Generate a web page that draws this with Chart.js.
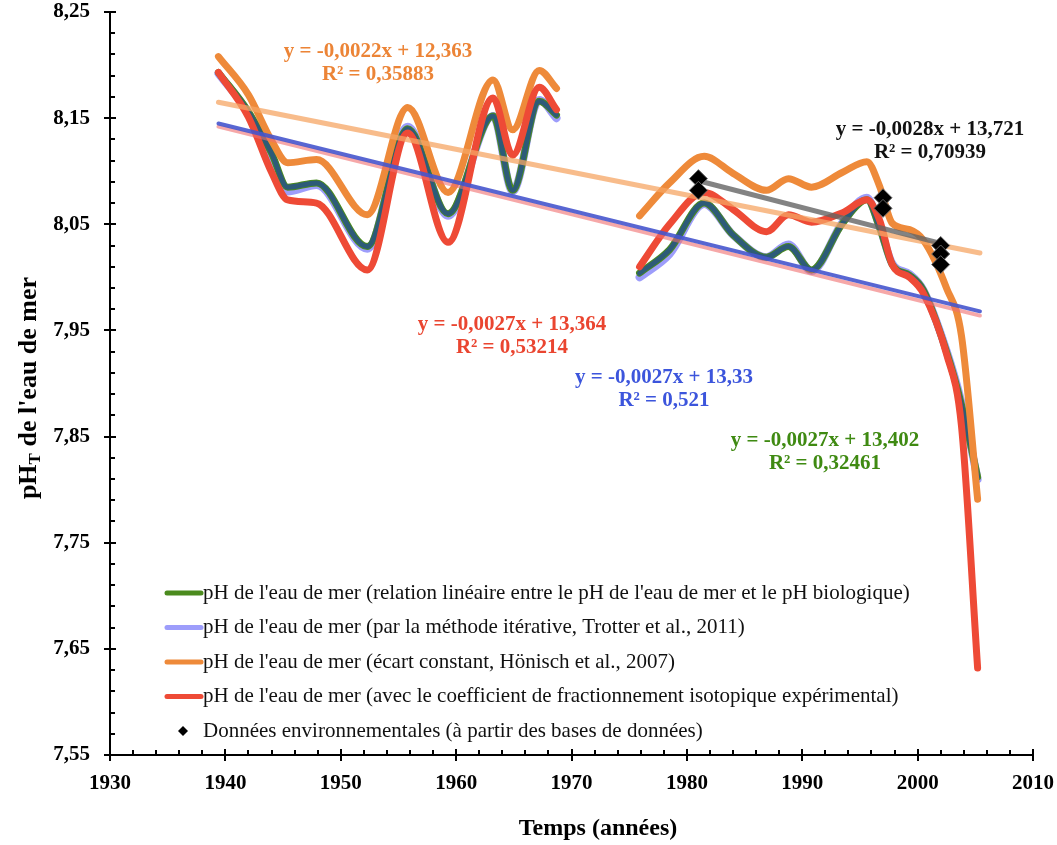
<!DOCTYPE html>
<html>
<head>
<meta charset="utf-8">
<script src="https://cdn.jsdelivr.net/npm/chart.js@4.4.0/dist/chart.umd.min.js"></script>
<style>
  html, body { margin: 0; padding: 0; background: #fff; }
</style>
</head>
<body>
<canvas id="phChart" width="1057" height="845"></canvas>
<script>
// years of the smoothed curves (null gap between the two periods)
var years = [1939.4, 1942, 1944, 1945.4, 1947.9, 1952.3, 1955.8, 1959.3, 1963.2, 1964.9, 1967.2, 1968.7,
  1972,
  1975.9, 1978.5, 1981.5, 1984, 1986.9, 1988.8, 1990.8, 1993.5, 1995.6, 1996.7, 1997.8, 1999.3, 2000.5, 2002.5, 2003.8, 2005.2];

var greenVals = [8.193, 8.156, 8.117, 8.085, 8.089, 8.029, 8.140, 8.060, 8.152, 8.082, 8.166, 8.153,
  null,
  8.004, 8.026, 8.070, 8.040, 8.019, 8.029, 8.007, 8.051, 8.073, 8.047, 8.012, 8.002, 7.988, 7.930, 7.880, 7.812];
var lavenderVals = [8.192, 8.155, 8.114, 8.081, 8.087, 8.027, 8.142, 8.058, 8.152, 8.081, 8.167, 8.150,
  null,
  8.000, 8.022, 8.069, 8.040, 8.019, 8.031, 8.006, 8.052, 8.075, 8.048, 8.013, 8.003, 7.988, 7.931, 7.882, 7.810];
var orangeVals = [8.208, 8.172, 8.129, 8.108, 8.111, 8.059, 8.160, 8.080, 8.186, 8.139, 8.195, 8.178,
  null,
  8.058, 8.089, 8.114, 8.098, 8.082, 8.093, 8.085, 8.099, 8.109, 8.086, 8.051, 8.045, 8.035, 7.990, 7.945, 7.791];
var redVals = [8.193, 8.151, 8.099, 8.073, 8.070, 8.007, 8.136, 8.033, 8.169, 8.115, 8.179, 8.158,
  null,
  8.010, 8.050, 8.080, 8.064, 8.043, 8.059, 8.052, 8.061, 8.073, 8.054, 8.012, 8.000, 7.985, 7.928, 7.860, 7.632];

// environmental data (diamonds)
var envYears = [1981, 1981, 1997, 1997, 2002, 2002, 2002];
var envVals = [8.093, 8.082, 8.075, 8.065, 8.030, 8.022, 8.012];

// linear trends, end points
var trendYears = [1939.4, 2005.4];
var orangeTrend = [8.165, 8.023];
var blueTrend = [8.145, 7.968];
var redTrend = [8.142, 7.964];
var envTrendYears = [1981, 2002];
var envTrend = [8.091, 8.032];

var legendLabels = [
  "pH de l'eau de mer (relation linéaire entre le pH de l'eau de mer et le pH biologique)",
  "pH de l'eau de mer (par la méthode itérative, Trotter et al., 2011)",
  "pH de l'eau de mer (écart constant, Hönisch et al., 2007)",
  "pH de l'eau de mer (avec le coefficient de fractionnement isotopique expérimental)",
  "Données environnementales (à partir des bases de données)"
];

var equations = [
  { lines: ['y = -0,0022x + 12,363', 'R² = 0,35883'], color: '#ec8436', x: 378, y: 52 },
  { lines: ['y = -0,0028x + 13,721', 'R² = 0,70939'], color: '#111111', x: 930, y: 130 },
  { lines: ['y = -0,0027x + 13,364', 'R² = 0,53214'], color: '#ea4530', x: 512, y: 325 },
  { lines: ['y = -0,0027x + 13,33', 'R² = 0,521'], color: '#3c55dc', x: 664, y: 378 },
  { lines: ['y = -0,0027x + 13,402', 'R² = 0,32461'], color: '#3f8a12', x: 825, y: 441 }
];

var serif = "'Liberation Serif', 'Times New Roman', serif";

function pts(xs, ys) {
  return xs.map(function(x, i) { return { x: x, y: ys[i] }; });
}

function curve(label, vals, color, width, order) {
  return {
    label: label, data: pts(years, vals), borderColor: color, borderWidth: width,
    pointRadius: 0, fill: false, cubicInterpolationMode: 'monotone', spanGaps: false,
    borderCapStyle: 'round', borderJoinStyle: 'round', order: order
  };
}

function trend(xs, vals, color, width, order) {
  return {
    label: '', data: pts(xs, vals), borderColor: color, borderWidth: width,
    pointRadius: 0, fill: false, tension: 0, order: order, borderCapStyle: 'round'
  };
}

var tickMarks = {
  id: 'tickMarks',
  afterDraw: function(chart) {
    var ctx = chart.ctx, xs = chart.scales.x, ys = chart.scales.y, a = chart.chartArea;
    ctx.save();
    ctx.strokeStyle = '#000';
    ctx.lineWidth = 2;
    for (var yr = 1930; yr <= 2010; yr += 2) {
      var px = Math.round(xs.getPixelForValue(yr));
      var major = yr % 10 === 0;
      ctx.beginPath();
      ctx.moveTo(px, a.bottom + (major ? 6 : 0));
      ctx.lineTo(px, a.bottom - (major ? 6 : 5));
      ctx.stroke();
    }
    for (var i = 0; i <= 35; i++) {
      var py = Math.round(ys.getPixelForValue(7.55 + i * 0.02));
      var maj = i % 5 === 0;
      ctx.beginPath();
      ctx.moveTo(a.left - (maj ? 6 : 0), py);
      ctx.lineTo(a.left + (maj ? 6 : 5), py);
      ctx.stroke();
    }
    ctx.restore();
  }
};

var texts = {
  id: 'texts',
  afterDraw: function(chart) {
    var ctx = chart.ctx, a = chart.chartArea;
    ctx.save();
    // regression equations
    ctx.textAlign = 'center';
    ctx.textBaseline = 'middle';
    ctx.font = 'bold 21px ' + serif;
    equations.forEach(function(e) {
      ctx.fillStyle = e.color;
      ctx.fillText(e.lines[0], e.x, e.y);
      ctx.fillText(e.lines[1], e.x, e.y + 23);
    });

    // x axis title
    ctx.fillStyle = '#000';
    ctx.font = 'bold 24px ' + serif;
    ctx.fillText('Temps (années)', 598, 829);

    // y axis title with subscript T
    ctx.translate(29, 388);
    ctx.rotate(-Math.PI / 2);
    ctx.textAlign = 'left';
    var big = 'bold 26px ' + serif, small = 'bold 17px ' + serif;
    ctx.font = big;
    var w1 = ctx.measureText('pH').width;
    ctx.font = small;
    var w2 = ctx.measureText('T').width;
    ctx.font = big;
    var w3 = ctx.measureText(" de l'eau de mer").width;
    var x0 = -(w1 + w2 + w3) / 2;
    ctx.fillText('pH', x0, 0);
    ctx.font = small;
    ctx.fillText('T', x0 + w1, 7);
    ctx.font = big;
    ctx.fillText(" de l'eau de mer", x0 + w1 + w2, 0);
    ctx.restore();

    // legend
    ctx.save();
    ctx.font = '21px ' + serif;
    ctx.textBaseline = 'middle';
    ctx.textAlign = 'left';
    var colors = ['#4b8b1e', '#9d9dfb', '#ee8a3a', '#ee4a36'];
    var lx = a.left + 55, ly = a.top + 581, step = 34.5;
    for (var i = 0; i < 5; i++) {
      var yy = ly + i * step;
      if (i < 4) {
        ctx.strokeStyle = colors[i];
        ctx.lineWidth = 5;
        ctx.lineCap = 'round';
        ctx.beginPath();
        ctx.moveTo(lx + 2, yy);
        ctx.lineTo(lx + 36, yy);
        ctx.stroke();
      } else {
        ctx.fillStyle = '#000';
        ctx.beginPath();
        ctx.moveTo(lx + 18, yy - 5);
        ctx.lineTo(lx + 23, yy);
        ctx.lineTo(lx + 18, yy + 5);
        ctx.lineTo(lx + 13, yy);
        ctx.closePath();
        ctx.fill();
      }
      ctx.fillStyle = '#111';
      ctx.fillText(legendLabels[i], lx + 38, yy);
    }
    ctx.restore();
  }
};

var ctx = document.getElementById('phChart').getContext('2d');
var config = {
  type: 'line',
  data: {
    datasets: [
      {
        type: 'scatter', label: legendLabels[4], data: pts(envYears, envVals),
        pointStyle: 'rectRot', pointRadius: 9, backgroundColor: '#000', borderColor: '#666',
        borderWidth: 1, showLine: false, order: 0
      },
      trend(envTrendYears, envTrend, 'rgba(100,100,100,0.8)', 5, 1),
      trend(trendYears, blueTrend, 'rgba(70,85,205,0.9)', 4, 2),
      trend(trendYears, redTrend, 'rgba(240,110,110,0.6)', 4, 3),
      trend(trendYears, orangeTrend, 'rgba(245,165,100,0.75)', 5, 4),
      curve(legendLabels[3], redVals, '#ee4a36', 7, 5),
      curve(legendLabels[2], orangeVals, '#ee8a3a', 7, 6),
      curve('', greenVals, '#2d5b78', 5, 7),
      curve(legendLabels[0], greenVals, '#4b8b1e', 7, 8),
      curve(legendLabels[1], lavenderVals, '#9d9dfb', 8, 9)
    ]
  },
  options: {
    responsive: false,
    animation: false,
    devicePixelRatio: 1,
    layout: { padding: { top: 12, right: 24, left: 0, bottom: 0 } },
    plugins: { legend: { display: false }, tooltip: { enabled: false } },
    scales: {
      x: {
        type: 'linear', min: 1930, max: 2010,
        grid: { display: false, drawTicks: false },
        border: { display: true, color: '#000', width: 2 },
        ticks: {
          stepSize: 10, padding: 16, color: '#000', font: { family: serif, size: 21, weight: 'bold' },
          callback: function(v) { return String(v); }
        },
        afterFit: function(s) { s.height = 90; s.paddingLeft = 0; s.paddingRight = 0; }
      },
      y: {
        min: 7.55, max: 8.25,
        grid: { display: false, drawTicks: false },
        border: { display: true, color: '#000', width: 2 },
        ticks: {
          stepSize: 0.1, padding: 20, color: '#000', font: { family: serif, size: 21, weight: 'bold' },
          callback: function(v) { return v.toFixed(2).replace('.', ','); }
        },
        afterFit: function(s) { s.width = 110; s.paddingTop = 0; s.paddingBottom = 0; }
      }
    }
  },
  plugins: [tickMarks, texts]
};
var chart = new Chart(ctx, config);
</script>
</body>
</html>
